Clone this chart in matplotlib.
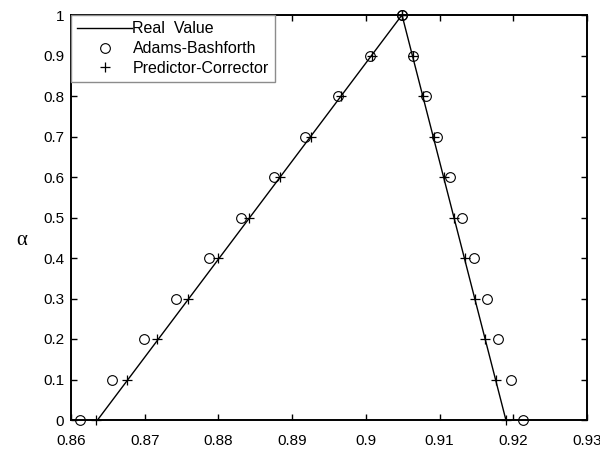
import matplotlib
matplotlib.use('Agg')
import matplotlib.pyplot as plt

# alpha-Schnitte
alpha = [0.0, 0.1, 0.2, 0.3, 0.4, 0.5, 0.6, 0.7, 0.8, 0.9, 1.0]

# exakte Loesung (Dreieck)
real_x = [0.8636, 0.9049, 0.9190]
real_alpha = [0.0, 1.0, 0.0]

# Adams-Bashforth, linke / rechte Grenze
ab_left = [0.8612, 0.8656, 0.8699, 0.8743, 0.8787, 0.8831, 0.8875, 0.8918, 0.8962, 0.9006, 0.9049]
ab_right = [0.9213, 0.9197, 0.9179, 0.9164, 0.9147, 0.9131, 0.9114, 0.9097, 0.9081, 0.9064, 0.9049]

# Predictor-Corrector, linke / rechte Grenze
pc_left = [0.8634, 0.8676, 0.8717, 0.8759, 0.8800, 0.8842, 0.8883, 0.8925, 0.8966, 0.9008, 0.9049]
pc_right = [0.9190, 0.9176, 0.9162, 0.9148, 0.9134, 0.9120, 0.9106, 0.9092, 0.9078, 0.9064, 0.9049]

x_ticks = [0.86, 0.87, 0.88, 0.89, 0.90, 0.91, 0.92, 0.93]
x_ticklabels = ['0.86', '0.87', '0.88', '0.89', '0.9', '0.91', '0.92', '0.93']
y_ticks = [0.0, 0.1, 0.2, 0.3, 0.4, 0.5, 0.6, 0.7, 0.8, 0.9, 1.0]
y_ticklabels = ['0', '0.1', '0.2', '0.3', '0.4', '0.5', '0.6', '0.7', '0.8', '0.9', '1']

plt.rcParams['font.family'] = ['Liberation Sans', 'DejaVu Sans']

fig = plt.figure(figsize=(6.0, 4.49), dpi=100)
ax = fig.add_axes([71 / 600, 1 - 420 / 449, 516 / 600, 405 / 449])

ax.plot(real_x, real_alpha, color='black', linewidth=1.0, label='Real  Value')

ax.plot(ab_left + ab_right, alpha + alpha, linestyle='none', marker='o',
        markersize=7, markerfacecolor='none', markeredgecolor='black',
        markeredgewidth=0.8, clip_on=False, label='Adams-Bashforth')

ax.plot(pc_left + pc_right, alpha + alpha, linestyle='none', marker='+',
        markersize=7, markeredgecolor='black', markeredgewidth=0.9,
        clip_on=False, label='Predictor-Corrector')

ax.set_xlim(0.86, 0.93)
ax.set_ylim(0, 1)
ax.set_xticks(x_ticks)
ax.set_xticklabels(x_ticklabels)
ax.set_yticks(y_ticks)
ax.set_yticklabels(y_ticklabels)

ax.tick_params(axis='both', direction='in', length=4, width=1.0,
               top=True, right=True, labelsize=11)
ax.tick_params(axis='x', pad=10)
ax.tick_params(axis='y', pad=5)

for spine in ax.spines.values():
    spine.set_linewidth(1.4)

fig.text(22 / 600, 1 - 240 / 449, 'α', fontsize=15,
         family=['Liberation Serif', 'DejaVu Serif'], ha='center', va='center')

leg = ax.legend(loc='upper left', borderaxespad=0, fontsize=11.5,
                handlelength=3.4, handletextpad=0.05, borderpad=0.4,
                labelspacing=0.3, fancybox=False, framealpha=1,
                edgecolor='0.55')
leg.get_frame().set_linewidth(1.0)

fig.savefig('out.png', dpi=100)
